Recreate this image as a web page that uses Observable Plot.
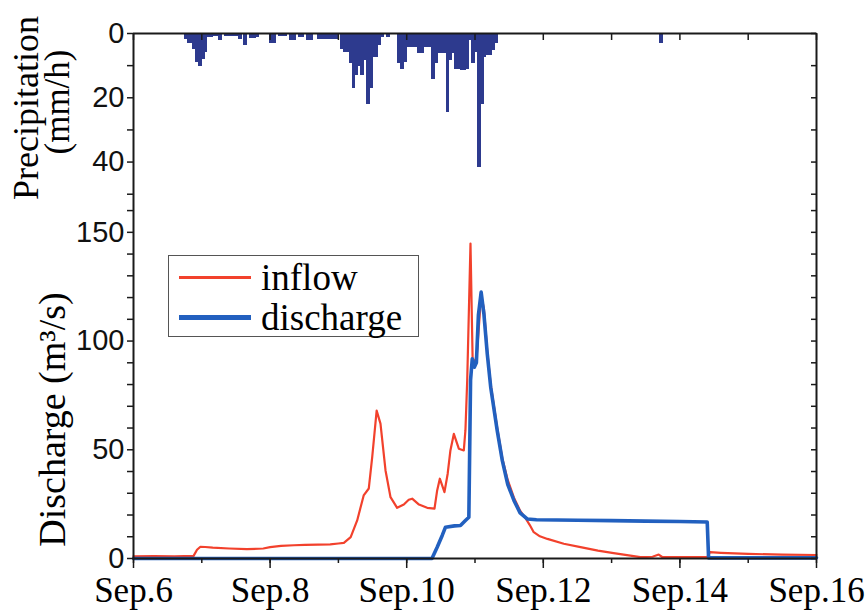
<!DOCTYPE html>
<html><head><meta charset="utf-8">
<script src="https://cdn.jsdelivr.net/npm/d3@7"></script>
<script src="https://cdn.jsdelivr.net/npm/@observablehq/plot@0.6"></script>
<style>
body{margin:0;background:#fff;}
#chart{position:relative;width:865px;height:613px;overflow:hidden;}
#chart svg{display:block;}
#legend{position:absolute;left:168px;top:255px;width:249px;height:80px;border:1.5px solid #555;background:#fff;font-family:"Liberation Serif","Times New Roman",serif;font-size:37px;color:#000;}
#legend .row{position:absolute;left:0;height:40px;display:flex;align-items:center;}
#legend .sw{display:inline-block;width:72px;margin-left:10px;margin-right:10px;}
</style></head><body>
<div id="chart"></div>
<script>
// ---- data ----
const precipHour = [18,19,20,21,22,23,24,25,26,27,28,29,30,32,33,34,35,36,37,39,41,42,43,48,49,51,52,53,55,56,58,59,61,62,65,66,67,68,69,70,71,
  73,74,75,76,77,78,79,80,81,82,83,84,85,86,87,89,
  93,94,95,96,97,98,99,100,101,102,103,104,105,106,107,108,109,110,111,112,113,114,115,116,117,118,119,120,121,122,123,124,125,126,127,185];
const precipMM = [1.6,3,3,4.7,8.8,10.2,8,5.7,1,1,0.8,0.8,2,0.8,0.8,0.8,0.8,0.8,1.8,3.6,1.5,1.5,1,3,3,0.8,0.8,0.8,2,2,1,1,2,2,1.8,1.8,1.8,1.8,1.8,1.8,1.8,
  4.7,5.7,5.7,9.3,17,13,10,13,8.3,22,17,7.3,7.3,3.6,1,1,
  9.3,11,8.8,4.2,4.2,4.2,4.2,6.2,6.2,4.2,4.2,4.2,14,9.3,6.2,6.2,6.2,24.4,8.3,6.2,11,11,11.2,11.2,11,2,9.3,5.7,41.5,22,7.3,6.7,6.7,5.2,3,3];

const inflowDay = [6.00,6.30,6.60,6.88,6.93,6.98,7.05,7.16,7.40,7.66,7.90,8.00,8.16,8.35,8.51,8.70,8.88,9.00,9.08,9.18,9.275,9.37,9.445,9.495,9.56,9.616,9.69,9.763,9.86,9.958,10.03,10.08,10.18,10.30,10.407,10.446,10.485,10.553,10.60,10.64,10.69,10.763,10.836,10.86,10.886,10.934,10.965,11.00,11.03,11.09,11.13,11.18,11.23,11.325,11.40,11.48,11.57,11.66,11.74,11.80,11.86,11.95,12.06,12.30,12.545,12.80,13.03,13.25,13.42,13.60,13.69,13.74,14.00,14.40,14.44,14.60,15.00,15.50,16.00];
const inflowQ = [1.0,1.1,1.0,1.2,4.0,5.4,5.3,5.0,4.6,4.3,4.6,5.2,5.8,6.1,6.3,6.4,6.5,6.9,7.2,9.8,17.5,29,32.2,46.6,68,62,40.5,28.2,23.3,24.8,27.0,27.5,24.8,23.3,22.9,31.3,36.7,30.5,39,49.7,57.3,50.5,49.7,59,82,144.8,92,90,95,121,115,95,80,60,46,36,28,22,18.5,15.5,12.1,10.2,9.0,6.8,5.2,3.6,2.5,1.4,0.6,0.8,1.8,0.7,0.7,0.6,2.9,2.6,2.1,1.8,1.6];

const dischargeDay = [6.00,10.37,10.446,10.52,10.568,10.70,10.787,10.86,10.91,10.935,10.96,10.99,11.02,11.05,11.09,11.13,11.18,11.23,11.325,11.40,11.48,11.57,11.66,11.764,11.90,12.50,13.00,13.50,14.00,14.40,14.42,16.00];
const dischargeQ = [0,0,5.2,10.6,14.4,15,15.2,17.5,19,82,91.8,88,90,112,122.5,112.6,94,78.8,58.9,45,34,26.7,21,18.2,17.8,17.6,17.4,17.2,17.0,16.8,0.3,0.3];

const dayTicks = [6,7,8,9,10,11,12,13,14,15,16];
const dayLabels = [6,8,10,12,14,16];
const precipTicks = [0,10,20,30,40,50];
const precipLabels = [0,20,40];
const qTicks = [0,10,20,30,40,50,60,70,80,90,100,110,120,130,140,150,160];
const qLabels = [0,50,100,150];
const seriesNames = ["inflow","discharge"];

// ---- tables ----
const precip = precipHour.map((h,i)=>({t0: 6 + h/24, t1: 6 + (h+1)/24, mm: precipMM[i]}));
const inflow = inflowDay.map((d,i)=>({day:d, q:inflowQ[i]}));
const discharge = dischargeDay.map((d,i)=>({day:d, q:dischargeQ[i]}));

const SERIF = "Liberation Serif, Times New Roman, serif";
const SANS = "Liberation Sans, Arial, sans-serif";
const INK = "#1a1a1a";
const RED = "#f2412c";
const BLUE = "#2260bf";
const NAVY = "#2d3a8e";

const common = {width:865, marginLeft:133, marginRight:49, style:{background:"#fff", color:INK, fontFamily:SANS}};

const topPlot = Plot.plot({
  ...common,
  height:204, marginTop:33, marginBottom:0,
  x:{domain:[6,16], axis:null},
  y:{domain:[0,53.2], reverse:true, axis:null},
  marks:[
    Plot.rectY(precip,{x1:"t0", x2:"t1", y1:0, y2:"mm", fill:NAVY, stroke:NAVY, strokeWidth:1, inset:0, shapeRendering:"crispEdges"}),
    Plot.axisY(precipTicks,{anchor:"left", tickSize:6, tickPadding:3, tickFormat:d=>precipLabels.includes(d)?String(d):"", fontSize:29, fontFamily:SANS, fill:"#111", label:null, strokeWidth:1.5}),
    Plot.axisY(precipTicks,{anchor:"right", tickSize:6, dx:-6, fill:"none", label:null, strokeWidth:1.5}),
    Plot.axisX(dayTicks,{anchor:"top", tickSize:6, dy:6, fill:"none", label:null, strokeWidth:1.5}),
    Plot.ruleX([6,16],{stroke:INK, strokeWidth:2}),
    Plot.ruleY([0],{stroke:INK, strokeWidth:2}),
    Plot.text(["Precipitation"],{frameAnchor:"left", textAnchor:"middle", dx:-107, dy:-11, rotate:-90, fontSize:36, fontFamily:SERIF, fill:"#000"}),
    Plot.text(["(mm/h)"],{frameAnchor:"left", textAnchor:"middle", dx:-76, dy:-17, rotate:-90, fontSize:35, fontFamily:SERIF, fill:"#000"})
  ]
});

const bottomPlot = Plot.plot({
  ...common,
  height:409, marginTop:0, marginBottom:55,
  x:{domain:[6,16], axis:null},
  y:{domain:[0,162.8], axis:null},
  marks:[
    Plot.line(inflow,{x:"day", y:"q", stroke:RED, strokeWidth:2.2}),
    Plot.line(discharge,{x:"day", y:"q", stroke:BLUE, strokeWidth:3.6}),
    Plot.axisY(qTicks,{anchor:"left", tickSize:6, tickPadding:3, tickFormat:d=>qLabels.includes(d)?String(d):"", fontSize:29, fontFamily:SANS, fill:"#111", label:null, strokeWidth:1.5}),
    Plot.axisY(qTicks,{anchor:"right", tickSize:6, dx:-6, fill:"none", label:null, strokeWidth:1.5}),
    Plot.axisX(dayTicks,{anchor:"bottom", tickSize:5, fill:"none", label:null, strokeWidth:1.5}),
    Plot.axisX(dayLabels,{anchor:"bottom", tickSize:10, tickPadding:9, tickFormat:d=>`Sep.${d}`, fontSize:35, fontFamily:SERIF, fill:"#000", label:null, strokeWidth:1.5}),
    Plot.ruleX([6,16],{stroke:INK, strokeWidth:2}),
    Plot.ruleY([0],{stroke:INK, strokeWidth:2}),
    Plot.text(["Discharge (m³/s)"],{frameAnchor:"left", textAnchor:"middle", dx:-81, dy:38, rotate:-90, fontSize:38, fontFamily:SERIF, fill:"#000"})
  ]
});

const chart = document.getElementById("chart");
chart.appendChild(topPlot);
chart.appendChild(bottomPlot);

// legend
const legend = document.createElement("div");
legend.id = "legend";
const legColors = [RED, BLUE];
const legWidths = [3, 5];
seriesNames.forEach((name,i)=>{
  const row = document.createElement("div");
  row.className = "row";
  row.style.top = (1 + i*40) + "px";
  const sw = document.createElement("span");
  sw.className = "sw";
  sw.style.borderTop = `${legWidths[i]}px solid ${legColors[i]}`;
  const label = document.createElement("span");
  label.textContent = name;
  row.appendChild(sw); row.appendChild(label);
  legend.appendChild(row);
});
chart.appendChild(legend);
</script>
</body></html>
